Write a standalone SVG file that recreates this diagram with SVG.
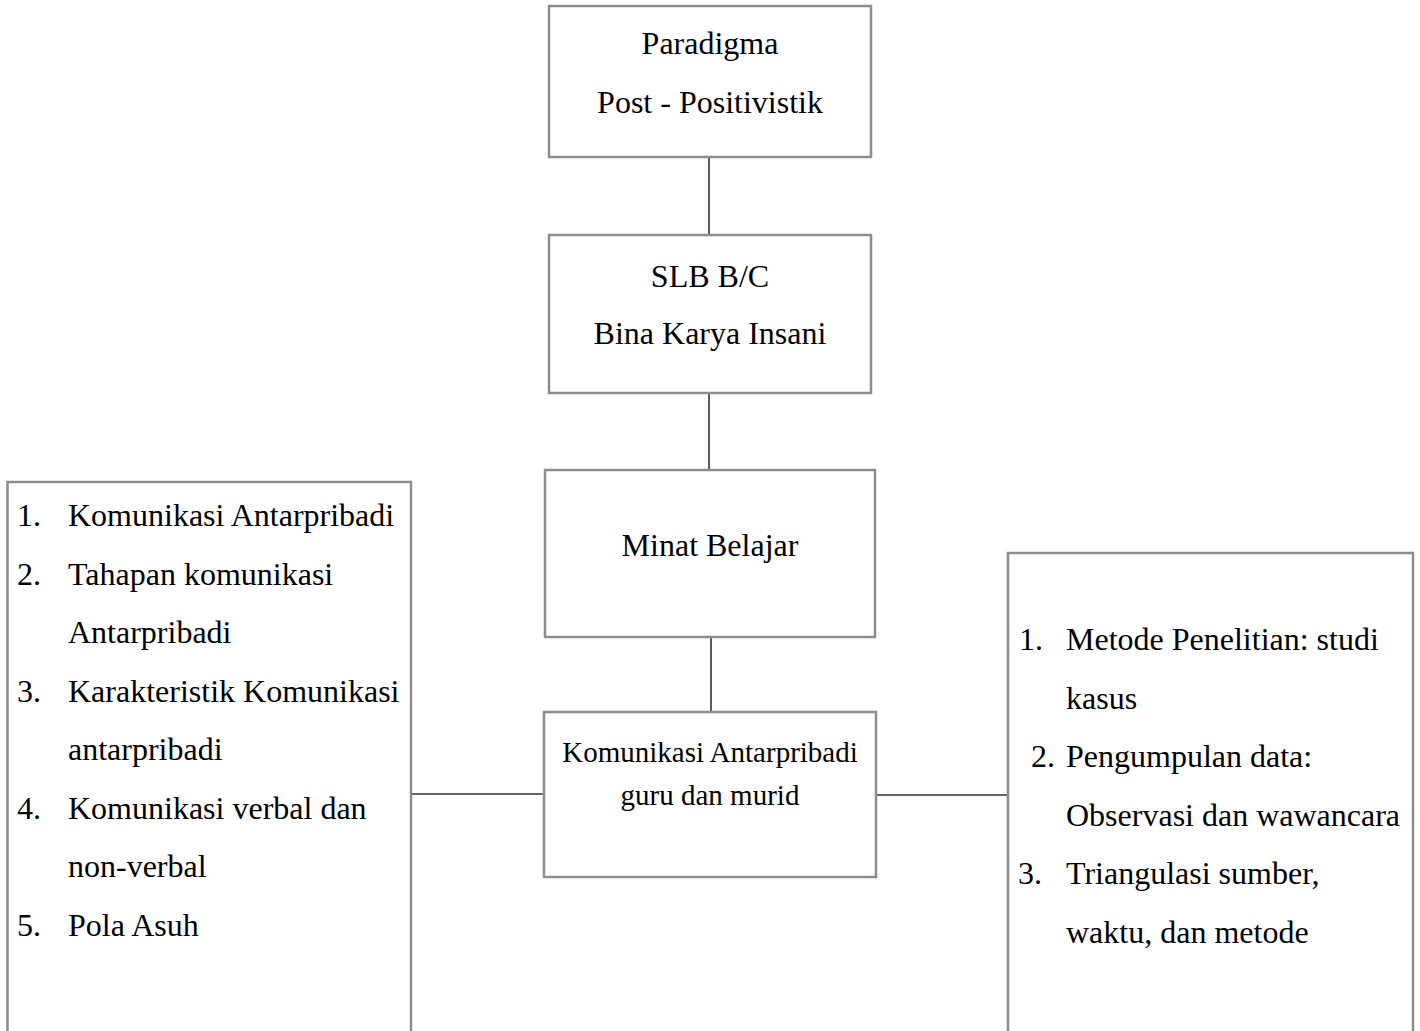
<svg xmlns="http://www.w3.org/2000/svg" width="1420" height="1031" viewBox="0 0 1420 1031">
<style>
.box{fill:#ffffff;stroke:#8a8d91;stroke-width:2.5}
.t{font-family:"Liberation Serif","Times New Roman",serif;font-size:32px;fill:#000}
.c{text-anchor:middle}
.s{font-size:29px}
.ln{stroke:#333;stroke-width:1.6;fill:none}
</style>
<rect width="1420" height="1031" fill="#ffffff"/>
<g id="connectors">
<line class="ln" x1="709" y1="157" x2="709" y2="235"/>
<line class="ln" x1="709" y1="393" x2="709" y2="470"/>
<line class="ln" x1="711" y1="637" x2="711" y2="712"/>
<line class="ln" x1="411" y1="794" x2="544" y2="794" stroke="#111"/>
<line class="ln" x1="876" y1="795" x2="1008" y2="795" stroke="#111"/>
</g>
<g id="paradigma">
<rect class="box" x="549" y="6" width="322" height="151"/>
<text class="t c" x="710" y="54">Paradigma</text>
<text class="t c" x="710" y="113">Post - Positivistik</text>
</g>
<g id="slb">
<rect class="box" x="549" y="235" width="322" height="158"/>
<text class="t c" x="710" y="287">SLB B/C</text>
<text class="t c" x="710" y="344">Bina Karya Insani</text>
</g>
<g id="minat">
<rect class="box" x="545" y="470" width="330" height="167"/>
<text class="t c" x="710" y="556">Minat Belajar</text>
</g>
<g id="komunikasi">
<rect class="box" x="544" y="712" width="332" height="165"/>
<text class="t c s" x="710" y="762">Komunikasi Antarpribadi</text>
<text class="t c s" x="710" y="805">guru dan murid</text>
</g>
<g id="teori">
<rect class="box" x="7.5" y="482" width="403.5" height="600"/>
<text class="t" x="17" y="526">1.</text>
<text class="t" x="68" y="526">Komunikasi Antarpribadi</text>
<text class="t" x="17" y="584.5">2.</text>
<text class="t" x="68" y="584.5">Tahapan komunikasi</text>
<text class="t" x="68" y="643">Antarpribadi</text>
<text class="t" x="17" y="701.5">3.</text>
<text class="t" x="68" y="701.5">Karakteristik Komunikasi</text>
<text class="t" x="68" y="760">antarpribadi</text>
<text class="t" x="17" y="818.5">4.</text>
<text class="t" x="68" y="818.5">Komunikasi verbal dan</text>
<text class="t" x="68" y="877">non-verbal</text>
<text class="t" x="17" y="935.5">5.</text>
<text class="t" x="68" y="935.5">Pola Asuh</text>
</g>
<g id="metode">
<rect class="box" x="1008" y="553" width="405" height="600"/>
<text class="t" x="1019" y="650">1.</text>
<text class="t" x="1066" y="650">Metode Penelitian: studi</text>
<text class="t" x="1066" y="708.5">kasus</text>
<text class="t" x="1031" y="767">2.</text>
<text class="t" x="1066" y="767">Pengumpulan data:</text>
<text class="t" x="1066" y="825.5">Observasi dan wawancara</text>
<text class="t" x="1018" y="884">3.</text>
<text class="t" x="1066" y="884">Triangulasi sumber,</text>
<text class="t" x="1066" y="942.5">waktu, dan metode</text>
</g>
</svg>
